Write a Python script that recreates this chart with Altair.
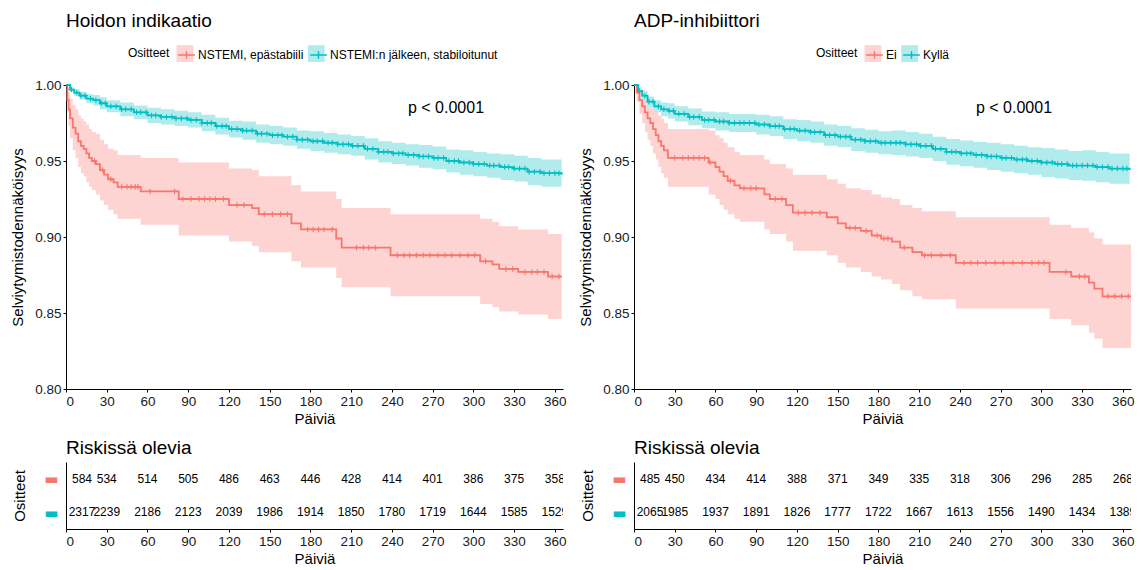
import altair as alt
import pandas as pd

FONT = "Liberation Sans"
RED = "#F8766D"
TEAL = "#00BFC4"
RED_BAND = "#FDD4D2"
TEAL_BAND = "#B2EBEC"

TICKS = [0, 30, 60, 90, 120, 150, 180, 210, 240, 270, 300, 330, 360]
Y_TICKS = [0.80, 0.85, 0.90, 0.95, 1.00]

# ---------------- Left panel: Hoidon indikaatio ----------------
L_TITLE = "Hoidon indikaatio"
L_GROUPS = ["NSTEMI, epästabiili", "NSTEMI:n jälkeen, stabiloitunut"]

LR_t = [0, 1, 2, 3, 5, 7, 9, 11, 13, 15, 17, 19, 22, 25, 28, 31, 35, 38, 55, 83, 120, 137, 142,
        166, 173, 199, 203, 239, 305, 314, 319, 333, 355, 365]
LR_s = [1.000, 0.990, 0.984, 0.978, 0.972, 0.968, 0.963, 0.960, 0.958, 0.955, 0.952, 0.950, 0.948,
        0.944, 0.941, 0.938, 0.936, 0.933, 0.930, 0.925, 0.921, 0.919, 0.915, 0.909, 0.905, 0.899,
        0.893, 0.888, 0.884, 0.882, 0.879, 0.877, 0.874, 0.874]
LR_hi = [1.000, 0.998, 0.995, 0.991, 0.987, 0.984, 0.980, 0.978, 0.976, 0.974, 0.971, 0.969, 0.968,
         0.964, 0.961, 0.958, 0.957, 0.954, 0.952, 0.949, 0.945, 0.944, 0.940, 0.934, 0.930, 0.925,
         0.919, 0.915, 0.912, 0.910, 0.907, 0.905, 0.902, 0.902]
LR_lo = [1.000, 0.982, 0.973, 0.965, 0.957, 0.952, 0.946, 0.942, 0.940, 0.936, 0.933, 0.931, 0.928,
         0.924, 0.921, 0.918, 0.915, 0.912, 0.908, 0.901, 0.897, 0.894, 0.890, 0.884, 0.880, 0.873,
         0.867, 0.861, 0.856, 0.854, 0.851, 0.849, 0.846, 0.846]
LR_cens = [21, 27, 33, 41, 45, 48, 51, 53, 62, 80, 86, 92, 98, 102, 106, 110, 116, 126, 131, 146,
           152, 158, 163, 178, 182, 186, 190, 196, 214, 219, 223, 228, 244, 249, 253, 258, 263, 268,
           274, 279, 284, 290, 296, 301, 309, 324, 329, 338, 343, 347, 352, 358, 363]

T_GRID = [0, 3, 6, 10, 15, 20, 25, 30, 40, 50, 60, 70, 80, 90, 100, 110, 120, 130, 140, 150, 160,
          170, 180, 190, 200, 210, 220, 230, 240, 250, 260, 270, 280, 290, 300, 310, 320, 330, 340,
          350, 365]
LT_s = [1.000, 0.997, 0.995, 0.993, 0.991, 0.990, 0.988, 0.986, 0.984, 0.982, 0.980, 0.979, 0.978,
        0.977, 0.975, 0.973, 0.971, 0.970, 0.968, 0.967, 0.966, 0.964, 0.963, 0.962, 0.961, 0.960,
        0.958, 0.956, 0.955, 0.954, 0.953, 0.952, 0.950, 0.949, 0.948, 0.947, 0.946, 0.945, 0.943,
        0.942, 0.941]
LT_hi = [1.000, 0.9985, 0.997, 0.9955, 0.994, 0.9935, 0.992, 0.990, 0.9885, 0.9865, 0.985, 0.984,
         0.983, 0.982, 0.9805, 0.9785, 0.9765, 0.976, 0.974, 0.973, 0.972, 0.970, 0.9695, 0.9685,
         0.9675, 0.9665, 0.965, 0.963, 0.962, 0.961, 0.9605, 0.9595, 0.9575, 0.957, 0.956, 0.955,
         0.9545, 0.9535, 0.952, 0.951, 0.950]
LT_lo = [1.000, 0.9955, 0.993, 0.9905, 0.988, 0.9865, 0.984, 0.982, 0.9795, 0.9775, 0.975, 0.974,
         0.973, 0.972, 0.9695, 0.9675, 0.9655, 0.964, 0.962, 0.961, 0.960, 0.958, 0.9565, 0.9555,
         0.9545, 0.9535, 0.951, 0.949, 0.948, 0.947, 0.9455, 0.9445, 0.9425, 0.941, 0.940, 0.939,
         0.9375, 0.9365, 0.934, 0.933, 0.932]

L_RISK_RED = [584, 534, 514, 505, 486, 463, 446, 428, 414, 401, 386, 375, 358]
L_RISK_TEAL = [2317, 2239, 2186, 2123, 2039, 1986, 1914, 1850, 1780, 1719, 1644, 1585, 1529]

# ---------------- Right panel: ADP-inhibiittori ----------------
R_TITLE = "ADP-inhibiittori"
R_GROUPS = ["Ei", "Kyllä"]

RR_t = [0, 2, 4, 6, 8, 10, 12, 14, 16, 18, 20, 22, 25, 55, 60, 63, 66, 69, 74, 78, 96, 100, 112,
        117, 142, 150, 156, 167, 175, 182, 190, 196, 205, 212, 237, 306, 322, 335, 339, 345, 366]
RR_s = [1.000, 0.995, 0.990, 0.986, 0.982, 0.978, 0.975, 0.971, 0.967, 0.963, 0.960, 0.957, 0.952,
        0.949, 0.946, 0.943, 0.940, 0.937, 0.934, 0.932, 0.928, 0.925, 0.921, 0.916, 0.913, 0.909,
        0.906, 0.904, 0.901, 0.899, 0.897, 0.893, 0.890, 0.888, 0.883, 0.877, 0.874, 0.870, 0.866,
        0.861, 0.861]
RR_hi = [1.000, 1.000, 0.999, 0.997, 0.995, 0.992, 0.990, 0.987, 0.983, 0.980, 0.978, 0.975, 0.971,
         0.970, 0.967, 0.965, 0.962, 0.959, 0.956, 0.954, 0.951, 0.948, 0.945, 0.941, 0.938, 0.935,
         0.932, 0.931, 0.928, 0.926, 0.925, 0.921, 0.919, 0.917, 0.913, 0.908, 0.906, 0.903, 0.899,
         0.895, 0.895]
RR_lo = [1.000, 0.989, 0.981, 0.975, 0.969, 0.964, 0.960, 0.955, 0.951, 0.946, 0.942, 0.939, 0.933,
         0.928, 0.925, 0.921, 0.918, 0.915, 0.912, 0.910, 0.905, 0.902, 0.897, 0.891, 0.888, 0.883,
         0.880, 0.877, 0.874, 0.872, 0.869, 0.865, 0.861, 0.859, 0.853, 0.846, 0.842, 0.837, 0.833,
         0.827, 0.827]
RR_cens = [30, 36, 40, 44, 48, 52, 56, 71, 81, 86, 90, 104, 109, 121, 126, 131, 137, 159, 163, 171,
           179, 184, 187, 199, 214, 219, 226, 233, 243, 248, 253, 259, 266, 272, 279, 286, 293, 298,
           302, 318, 328, 332, 349, 354, 359, 364]

RT_s = [1.000, 0.996, 0.993, 0.989, 0.986, 0.984, 0.983, 0.981, 0.979, 0.977, 0.976, 0.975, 0.975,
        0.974, 0.973, 0.971, 0.970, 0.969, 0.967, 0.966, 0.964, 0.963, 0.962, 0.962, 0.961, 0.960,
        0.958, 0.956, 0.955, 0.954, 0.953, 0.952, 0.951, 0.950, 0.949, 0.948, 0.947, 0.947, 0.946,
        0.945, 0.944]
RT_hi = [1.000, 0.998, 0.996, 0.9925, 0.990, 0.9885, 0.988, 0.986, 0.9845, 0.9825, 0.982, 0.981,
         0.981, 0.9805, 0.9795, 0.9775, 0.977, 0.976, 0.974, 0.973, 0.9715, 0.9705, 0.9695, 0.970,
         0.969, 0.968, 0.966, 0.9645, 0.9635, 0.9625, 0.962, 0.961, 0.960, 0.959, 0.9585, 0.9575,
         0.9565, 0.957, 0.956, 0.955, 0.954]
RT_lo = [1.000, 0.994, 0.990, 0.9855, 0.982, 0.9795, 0.978, 0.976, 0.9735, 0.9715, 0.970, 0.969,
         0.969, 0.9675, 0.9665, 0.9645, 0.963, 0.962, 0.960, 0.959, 0.9565, 0.9555, 0.9545, 0.954,
         0.953, 0.952, 0.950, 0.9475, 0.9465, 0.9455, 0.944, 0.943, 0.942, 0.941, 0.9395, 0.9385,
         0.9375, 0.937, 0.936, 0.935, 0.934]

TEAL_cens = [4, 8, 11, 14, 18, 22, 26, 29, 33, 37, 41, 44, 48, 52, 55, 59, 63, 66, 70, 74, 78, 81,
             85, 89, 92, 96, 100, 104, 107, 111, 115, 118, 122, 126, 130, 133, 137, 141, 144, 148,
             152, 156, 159, 163, 167, 170, 174, 178, 182, 185, 189, 193, 196, 200, 204, 208, 211,
             215, 219, 222, 226, 230, 234, 237, 241, 245, 248, 252, 256, 260, 263, 267, 271, 274,
             278, 282, 286, 289, 293, 297, 300, 304, 308, 312, 315, 319, 323, 326, 330, 334, 338,
             341, 345, 349, 352, 356, 360, 363]

R_RISK_RED = [485, 450, 434, 414, 388, 371, 349, 335, 318, 306, 296, 285, 268]
R_RISK_TEAL = [2065, 1985, 1937, 1891, 1826, 1777, 1722, 1667, 1613, 1556, 1490, 1434, 1389]

P_TEXT = "p < 0.0001"

ZW = "\u200b"  # invisible marker keeps the band-key legend separate from the line legend
W = 497
H_MAIN = 304
H_RISK = 67
LEG_FONT = 12
LEG_TITLE_W = 41.4   # width of "Ositteet" at 12px
LEG_TITLE_PAD = 7
LEG_COL_PAD = 3
LEG_KEY_SHIFT = 4


def surv_at(ts, ss, c):
    idx = max(i for i, t in enumerate(ts) if t <= c)
    return ss[idx]


def line_legend(legend_x):
    return alt.Legend(title="Ositteet", orient="none", legendX=legend_x, legendY=-40,
                      direction="horizontal", titleOrient="left",
                      symbolType="M-1,0H1M0,-0.45V0.45", symbolSize=280, symbolStrokeWidth=1.4,
                      labelFontSize=LEG_FONT, titleFontSize=LEG_FONT, titleFontWeight="normal",
                      labelFont=FONT, titleFont=FONT, columnPadding=LEG_COL_PAD, labelOffset=2,
                      titlePadding=LEG_TITLE_PAD, labelColor="black", titleColor="black",
                      labelLimit=400)


def band_legend(legend_x, first_label_w):
    # key backgrounds only (no text): placed under the line legend's symbols
    return alt.Legend(title=None, orient="none",
                      legendX=legend_x + LEG_TITLE_W + LEG_TITLE_PAD, legendY=-40,
                      direction="horizontal", symbolType="square", symbolSize=280,
                      symbolStrokeWidth=0, labelExpr="''", labelFontSize=LEG_FONT,
                      labelOffset=2, columnPadding=first_label_w + LEG_COL_PAD + LEG_KEY_SHIFT)


def km_panel(title, groups, curves, censors, legend_x, first_label_w):
    rows, crow = [], []
    for g, (ts, ss, lo, hi), cens in zip(groups, curves, censors):
        for t, s, l, h in zip(ts, ss, lo, hi):
            rows.append({"t": t, "s": s, "lo": l, "hi": h, "g": g, "gb": g + ZW})
        for c in cens:
            crow.append({"t": c, "s": surv_at(ts, ss, c), "g": g})
    df = pd.DataFrame(rows)
    cdf = pd.DataFrame(crow)

    xenc = alt.X("t:Q", scale=alt.Scale(domain=[0, 366], nice=False, zero=False),
                 axis=alt.Axis(values=TICKS, title="Päiviä", titlePadding=4))
    yaxis = alt.Axis(values=Y_TICKS, format=".2f", title="Selviytymistodennäköisyys", titlePadding=9)
    yscale = alt.Scale(domain=[0.8, 1.0], nice=False, zero=False)
    fill = alt.Fill("gb:N", scale=alt.Scale(domain=[g + ZW for g in groups],
                                            range=[RED_BAND, TEAL_BAND]),
                    legend=band_legend(legend_x, first_label_w))
    stroke = alt.Stroke("g:N", scale=alt.Scale(domain=groups, range=[RED, TEAL]),
                        legend=line_legend(legend_x))

    band = alt.Chart(df).mark_area(interpolate="step-after").encode(
        x=xenc, y=alt.Y("lo:Q", scale=yscale, axis=yaxis), y2="hi:Q", fill=fill)
    line = alt.Chart(df).mark_line(interpolate="step-after", strokeWidth=1.8).encode(
        x=xenc, y=alt.Y("s:Q", scale=yscale, axis=yaxis), stroke=stroke)
    pts = alt.Chart(cdf).mark_point(shape="M-1,0H1M0,-1V1", filled=False, size=30,
                                    strokeWidth=1.1, opacity=1).encode(
        x=xenc, y=alt.Y("s:Q", scale=yscale, axis=yaxis), stroke=stroke)
    ptxt = alt.Chart(pd.DataFrame({"p": [P_TEXT]})).mark_text(
        fontSize=16, font=FONT, color="black").encode(
        text="p:N", x=alt.value(380), y=alt.value(23))
    return alt.layer(band, line, pts, ptxt).properties(
        width=W, height=H_MAIN, title=alt.Title(title, offset=47))


def risk_panel(groups, red_n, teal_n):
    rows = []
    for t, n in zip(TICKS, red_n):
        rows.append({"t": t, "g": groups[0], "n": str(n)})
    for t, n in zip(TICKS, teal_n):
        rows.append({"t": t, "g": groups[1], "n": str(n)})
    df = pd.DataFrame(rows)
    xenc = alt.X("t:Q", scale=alt.Scale(domain=[0, 366], nice=False, zero=False),
                 axis=alt.Axis(values=TICKS, title="Päiviä", titlePadding=4))
    cond = {"condition": {"test": f"datum.value === '{groups[0]}'", "value": RED}, "value": TEAL}
    yenc = alt.Y("g:N", scale=alt.Scale(domain=groups, paddingInner=0, paddingOuter=0.15),
                 axis=alt.Axis(title="Ositteet", labelExpr="'▬'", ticks=False, labelPadding=8,
                               labelColor=cond, labelFont="DejaVu Sans", labelFontSize=15,
                               titlePadding=16))
    base = alt.Chart(df)
    txt = base.transform_filter("datum.t > 0").mark_text(
        fontSize=12, font=FONT, color="black", clip=True).encode(x=xenc, y=yenc, text="n:N")
    txt0 = base.transform_filter("datum.t == 0").mark_text(
        fontSize=12, font=FONT, color="black", dx=16).encode(x=xenc, y=yenc, text="n:N")
    return alt.layer(txt, txt0).properties(
        width=W, height=H_RISK, title=alt.Title("Riskissä olevia", offset=4))


left_main = km_panel(L_TITLE, L_GROUPS,
                     [(LR_t, LR_s, LR_lo, LR_hi), (T_GRID, LT_s, LT_lo, LT_hi)],
                     [LR_cens, TEAL_cens], 62, 105.4)
right_main = km_panel(R_TITLE, R_GROUPS,
                      [(RR_t, RR_s, RR_lo, RR_hi), (T_GRID, RT_s, RT_lo, RT_hi)],
                      [RR_cens, TEAL_cens], 182, 10.7)
left_risk = risk_panel(L_GROUPS, L_RISK_RED, L_RISK_TEAL)
right_risk = risk_panel(R_GROUPS, R_RISK_RED, R_RISK_TEAL)

left_col = alt.vconcat(left_main, left_risk, spacing=12)
right_col = alt.vconcat(right_main, right_risk, spacing=12)

chart = alt.hconcat(left_col, right_col, spacing=11).resolve_scale(
    fill="independent", stroke="independent"
).resolve_legend(
    fill="independent", stroke="independent"
).properties(
    padding={"left": 10, "top": 12, "right": 0, "bottom": 0},
    background="white",
).configure_axis(
    labelFont=FONT, labelFontSize=13.5, labelColor="#1a1a1a",
    titleFont=FONT, titleFontSize=15, titleFontWeight="normal", titleColor="black",
    domainColor="black", domainWidth=1, tickColor="black", tickSize=3, grid=False,
    labelPadding=2,
).configure_view(stroke=None).configure_title(
    font=FONT, fontSize=19, fontWeight="normal", anchor="start", frame="group", color="black"
)

chart.save("out.html", embed_options={"renderer": "svg", "actions": False})
